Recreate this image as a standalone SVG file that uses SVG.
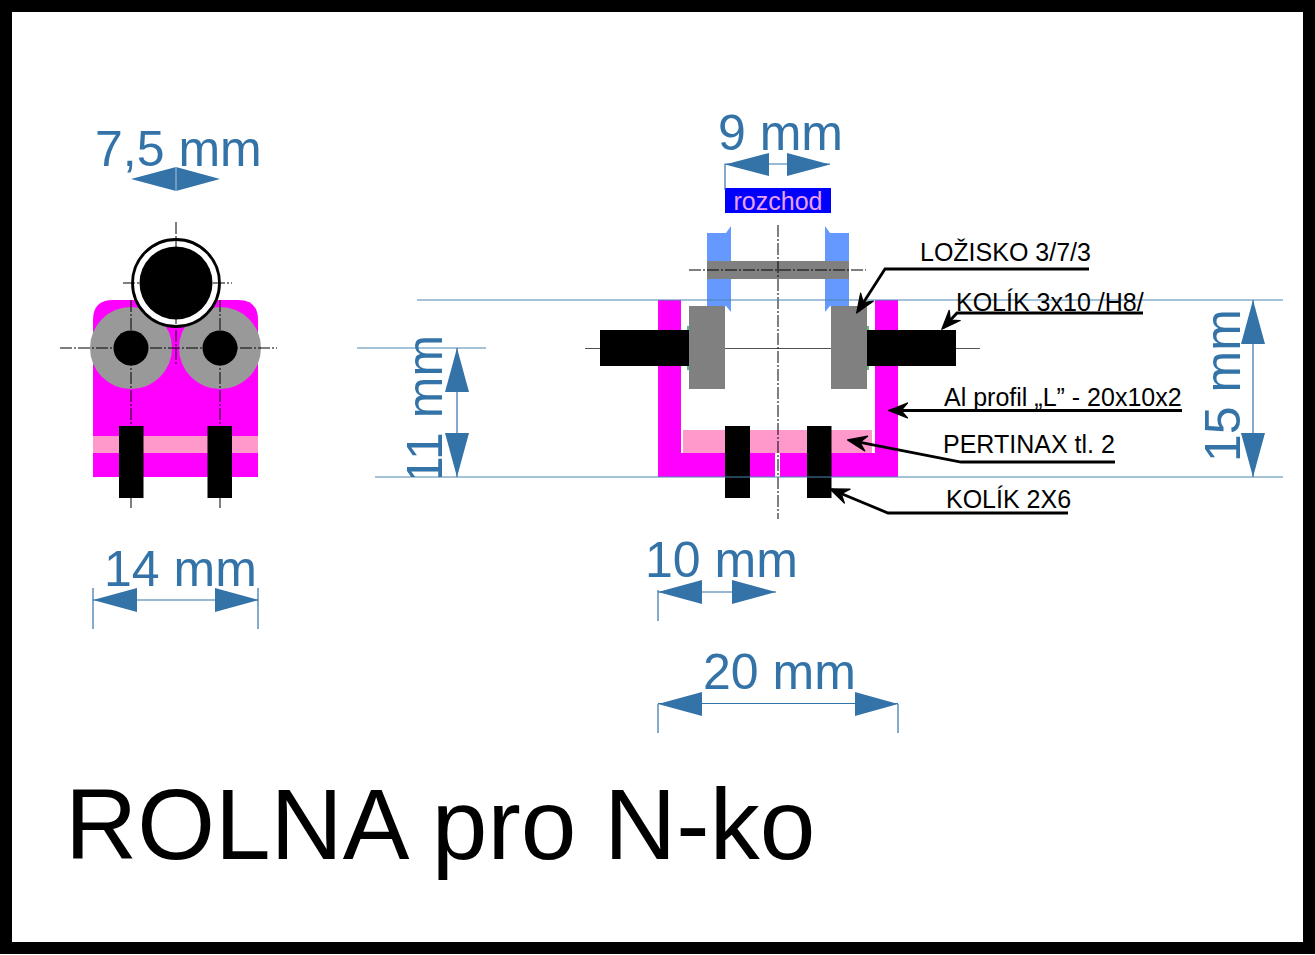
<svg xmlns="http://www.w3.org/2000/svg" width="1315" height="955" viewBox="0 0 1315 955">
<style>
text{font-family:"Liberation Sans",Arial,sans-serif}
.dim{font-size:50px;fill:#3373a8}
.lab{font-size:25px;fill:#000}
.mag{fill:#ff00ff}.pink{fill:#ff99cc}.gray{fill:#808080}.lg{fill:#999999}.blk{fill:#000}.blue{fill:#6699ff}
.cl{stroke:#000;stroke-width:1;fill:none;stroke-dasharray:12 2 2 2}
.thin{stroke:#4b85b2;stroke-width:1;fill:none}
.dl{stroke:#3373a8;stroke-width:1.200;fill:none}
.ah{fill:#3373a8}
.lead{stroke:#000;stroke-width:2.800;fill:none;marker-end:url(#barb)}
</style>
<defs>
<marker id="barb" markerUnits="userSpaceOnUse" markerWidth="30" markerHeight="30" refX="17" refY="7" orient="auto" viewBox="0 0 30 30" overflow="visible"><path d="M19.500,7L0.500,-0.500L7,7L0.500,14.500Z" fill="#000" stroke="#000" stroke-width="1.200" stroke-linejoin="round"/></marker>
<clipPath id="clip11"><rect x="390" y="320" width="70" height="157"/></clipPath>
</defs>
<rect id="frame" x="6" y="6" width="1303" height="942" fill="#fff" stroke="#000" stroke-width="12"/>

<g id="side-view">
<path class="mag" d="M93,477V320Q93,300 113,300H238Q258,300 258,320V477Z"/>
<rect class="pink" x="93" y="436" width="165" height="17"/>
<circle class="lg" cx="131" cy="348" r="41"/>
<circle class="lg" cx="220" cy="348" r="41"/>
<circle class="blk" cx="131" cy="348" r="17.500"/>
<circle class="blk" cx="220" cy="348" r="17.500"/>
<circle cx="176" cy="283" r="43.500" fill="#fff" stroke="#000" stroke-width="2.800"/>
<circle class="blk" cx="176" cy="283" r="36.500"/>
<rect class="blk" x="119" y="426" width="24.500" height="72"/>
<rect class="blk" x="207.500" y="426" width="24.500" height="72"/>
<path class="cl" d="M60,348H277M176,222V366M123,283H232M131,300V508M220,300V508"/>
</g>

<g id="front-view">
<path class="blue" d="M707,233H726L731,226V312L726,306H707Z"/>
<path class="blue" d="M849,233H830L825,226V312L830,306H849Z"/>
<rect class="gray" x="707" y="261" width="142" height="18"/>
<path class="mag" d="M658,300H681V453H775V477H658Z"/>
<path class="mag" d="M875,300H898V477H780V453H875Z"/>
<rect class="pink" x="683" y="430" width="189" height="23"/>
<path d="M688,326V370M868,326V370" stroke="#2e9e4f" stroke-width="1.500"/>
<path d="M585,348.500H980" stroke="#555" stroke-width="1" fill="none"/>
<rect class="blk" x="600" y="330" width="89" height="36"/>
<rect class="blk" x="867" y="330" width="89" height="36"/>
<rect class="gray" x="689" y="306" width="36" height="83"/>
<rect class="gray" x="831" y="306" width="36" height="83"/>
<rect class="blk" x="725" y="426" width="25" height="72"/>
<rect class="blk" x="807" y="426" width="24.500" height="72"/>
<path class="cl" d="M689,270H866M778,225V519"/>
</g>

<g id="rozchod">
<rect x="725" y="188" width="106" height="25" fill="#0000ff"/>
<text x="778" y="210" font-size="25" fill="#e9a0f0" text-anchor="middle">rozchod</text>
</g>

<g id="connectors">
<path class="thin" d="M417,300H1283M375,477H1283M357,348H486"/>
<path class="dl" d="M725,190V164H830M457,348V477M1253,300V477M93,588V629M258,588V629M93,600H258M658,590V621M658,592H776M658,704V733M898,704V733M658,703.500H898"/>
<path class="ah" d="M131,179L176,167V191ZM220,179L176,167V191Z"/>
<path d="M176,167V191" stroke="#fff" stroke-width=".6"/>
<path class="ah" d="M725,164.500L769,153V176ZM830,164.500L787,153V176Z"/>
<path class="ah" d="M457,348L445,392H469ZM457,477L445,433H469Z"/>
<path class="ah" d="M1253,300L1241,344H1265ZM1253,477L1241,433H1265Z"/>
<path class="ah" d="M93,600L137,588V612ZM259,600L215,588V612Z"/>
<path class="ah" d="M658,592L702,580V604ZM776,592L732,580V604Z"/>
<path class="ah" d="M658,704L702,692V716ZM898,704L855,692V716Z"/>
<path class="lead" d="M1089,269H885L858,311"/>
<path class="lead" d="M1143,313H957L943.500,327.500"/>
<path class="lead" d="M1182,410.500H891"/>
<path class="lead" d="M1115,462H961L850,440.400"/>
<path class="lead" d="M1068,513H888L832,489.800"/>
</g>

<g id="labels">
<text class="dim" x="95" y="166">7,5 mm</text>
<text class="dim" x="718" y="150">9 mm</text>
<text class="dim" x="104" y="586">14 mm</text>
<text class="dim" x="645" y="577">10 mm</text>
<text class="dim" x="703" y="689">20 mm</text>
<g clip-path="url(#clip11)"><text class="dim" transform="translate(442,484) rotate(-90)">11 mm</text></g>
<text class="dim" transform="translate(1240,462) rotate(-90)">15 mm</text>
<text class="lab" x="920" y="261">LOŽISKO 3/7/3</text>
<text class="lab" x="956" y="311">KOLÍK 3x10 /H8/</text>
<text class="lab" x="944" y="406">Al profil „L” - 20x10x2</text>
<text class="lab" x="943" y="453">PERTINAX tl. 2</text>
<text class="lab" x="946" y="508">KOLÍK 2X6</text>
<text x="65" y="859" font-size="100" fill="#000">ROLNA pro N-ko</text>
</g>
</svg>
